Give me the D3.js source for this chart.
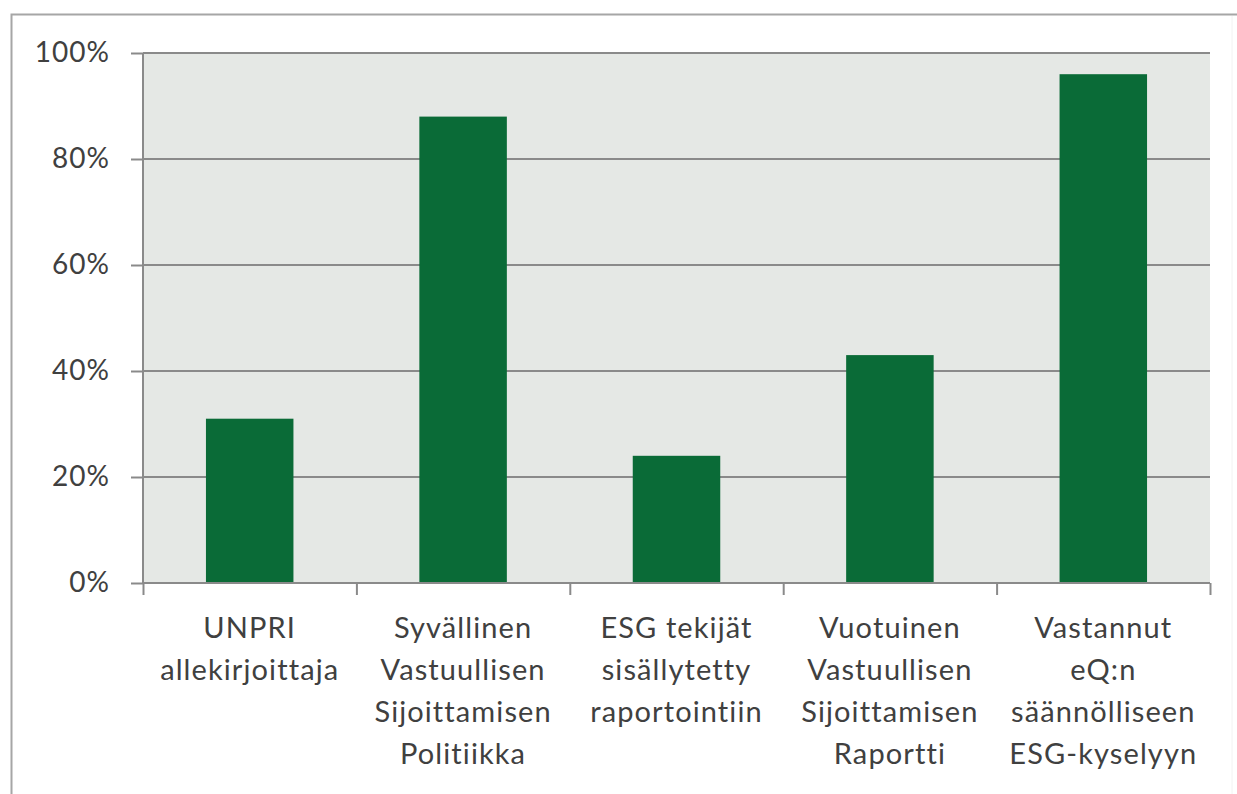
<!DOCTYPE html>
<html><head><meta charset="utf-8">
<script src="https://cdn.jsdelivr.net/npm/d3@7"></script>
<style>body{margin:0;background:#fff}svg{display:block}text{font-family:Lato,"Open Sans",sans-serif}</style>
</head><body><svg id="c" width="1237" height="794"></svg>
<script>
const categories = [
  ["UNPRI","allekirjoittaja"],
  ["Syvällinen","Vastuullisen","Sijoittamisen","Politiikka"],
  ["ESG tekijät","sisällytetty","raportointiin"],
  ["Vuotuinen","Vastuullisen","Sijoittamisen","Raportti"],
  ["Vastannut","eQ:n","säännölliseen","ESG-kyselyyn"]
];
const values = [0.31, 0.88, 0.24, 0.43, 0.96];
const yTicks = [0, 0.2, 0.4, 0.6, 0.8, 1.0];

const svg = d3.select("#c");
const L = 143, R = 1210, T = 53, B = 583;
const ids = categories.map((d,i)=>i);
const x = d3.scaleBand().domain(ids).range([L,R]).paddingInner(0).paddingOuter(0);
const y = d3.scaleLinear().domain([0,1]).range([B,T]);

// outer frame
svg.append("path").attr("d","M11.5,800V14.5H1240").attr("fill","none").attr("stroke","#a6a6a6").attr("stroke-width",2);
svg.append("line").attr("x1",1232).attr("x2",1232).attr("y1",16).attr("y2",794).attr("stroke","#f2f2f2").attr("stroke-width",1);

svg.append("rect").attr("x",L).attr("y",T).attr("width",R-L).attr("height",B-T).attr("fill","#e5e8e5");

// gridlines
svg.append("g").selectAll("line").data(yTicks.filter(d=>d>0)).join("line")
  .attr("x1",L).attr("x2",R).attr("y1",d=>y(d)).attr("y2",d=>y(d))
  .attr("stroke","#8a8a8a").attr("stroke-width",2);

// bars
const bw = x.bandwidth()*0.41;
svg.append("g").selectAll("rect").data(values).join("rect")
  .attr("x",(d,i)=>x(i)+x.bandwidth()/2-bw/2).attr("width",bw)
  .attr("y",d=>y(d)).attr("height",d=>B-y(d)).attr("fill","#0a6b37");

// y axis
const ya = d3.axisLeft(y).tickValues(yTicks).tickFormat(d3.format(".0%")).tickSize(12).tickPadding(21);
const gy = svg.append("g").attr("transform",`translate(${L},0)`).call(ya);
gy.select(".domain").attr("stroke","#8a8a8a").attr("stroke-width",2).attr("d",`M0,${T}V${B}`);
gy.selectAll(".tick line").attr("stroke","#8a8a8a").attr("stroke-width",2);
gy.selectAll(".tick text").attr("font-size",28).attr("letter-spacing",1).attr("fill","#404040").attr("font-family","Lato");

// x axis
const xb = d3.scaleLinear().domain([0,categories.length]).range([L,R]);
const xa = d3.axisBottom(xb).tickValues(d3.range(categories.length+1)).tickFormat("").tickSize(12);
const gx = svg.append("g").attr("transform",`translate(0,${B})`).call(xa);
gx.select(".domain").attr("stroke","#8a8a8a").attr("stroke-width",2).attr("d",`M${L},0H${R}`);
gx.selectAll(".tick line").attr("stroke","#8a8a8a").attr("stroke-width",2);

// category labels
const lg = svg.append("g");
categories.forEach((lines,i)=>{
  const cx = x(i)+x.bandwidth()/2;
  const t = lg.append("text").attr("x",cx).attr("y",638)
    .attr("text-anchor","middle").attr("font-size",29).attr("letter-spacing",1.1).attr("fill","#404040");
  lines.forEach((s,j)=>t.append("tspan").attr("x",cx).attr("y",638+j*42).text(s));
});
</script></body></html>
